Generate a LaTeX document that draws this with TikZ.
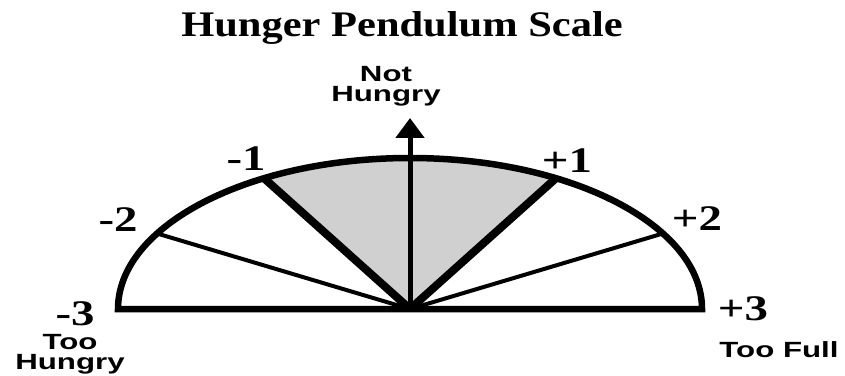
\documentclass[tikz,border=0pt]{standalone}
\usepackage{fontspec}
\setmainfont{Liberation Serif}
\newfontfamily\headfont{Liberation Serif}[FakeStretch=1.18]
\newfontfamily\numfont{Liberation Serif}[FakeStretch=1.3]
\newfontfamily\cuefont{Liberation Sans}[FakeStretch=1.42]
\usetikzlibrary{arrows.meta}
\definecolor{sectorgray}{HTML}{D0D0D0}
\tikzset{
    heading/.style={font=\headfont\bfseries\fontsize{36}{36}\selectfont, inner sep=0pt, anchor=base},
    numlabel/.style={font=\numfont\bfseries\fontsize{36}{36}\selectfont, inner sep=0pt},
    cue/.style={font=\cuefont\bfseries\fontsize{22}{20}\selectfont, inner sep=0pt, align=center},
    rim/.style={line width=6.5pt, line join=miter},
    spoke/.style={line width=4pt},
    mainspoke/.style={line width=8pt},
    pointer/.style={line width=5pt, -{Triangle[width=28pt, length=20pt]}},
}

\begin{document}
\begin{tikzpicture}[x=1pt, y=1pt]
\useasboundingbox (0,0) rectangle (845,375);

\node[heading] (title) at (402, 338) {Hunger Pendulum Scale};

% Pendulum centre and scale points
\coordinate (O) at (410, 66);
\coordinate (left) at ([shift={(-292,0)}]O);
\coordinate (right) at ([shift={(292,0)}]O);
\foreach \ang/\name in {150/m2, 120/m1, 60/p1, 30/p2}
    \coordinate (\name) at ([shift={(\ang:292 and 151)}]O);
\coordinate (tip) at (410, 257);

% Comfortable zone
\fill[sectorgray] (O) -- (m1) arc[start angle=120, end angle=60, x radius=292, y radius=151] -- cycle;

% Spokes
\draw[spoke] (O) -- (m2);
\draw[spoke] (O) -- (p2);
\draw[mainspoke] (O) -- (m1);
\draw[mainspoke] (O) -- (p1);

% Outline
\draw[rim] (left) arc[start angle=180, end angle=0, x radius=292, y radius=151] -- cycle;

% Not hungry arrow
\draw[pointer] (O) -- (tip);

% Scale labels
\node[numlabel] (lm3) at (75, 61) {-3};
\node[numlabel] (lm2) at (118, 155) {-2};
\node[numlabel] (lm1) at (246, 216) {-1};
\node[numlabel] (lp1) at (567, 214) {+1};
\node[numlabel] (lp2) at (697, 156) {+2};
\node[numlabel] (lp3) at (743, 66) {+3};

\node[cue] (nothungry) at (386, 289) {Not\\Hungry};
\node[cue, anchor=south] (toohungry) at (70, 1) {Too\\Hungry};
\node[cue] (toofull) at (779, 25) {Too Full};

\end{tikzpicture}
\end{document}
